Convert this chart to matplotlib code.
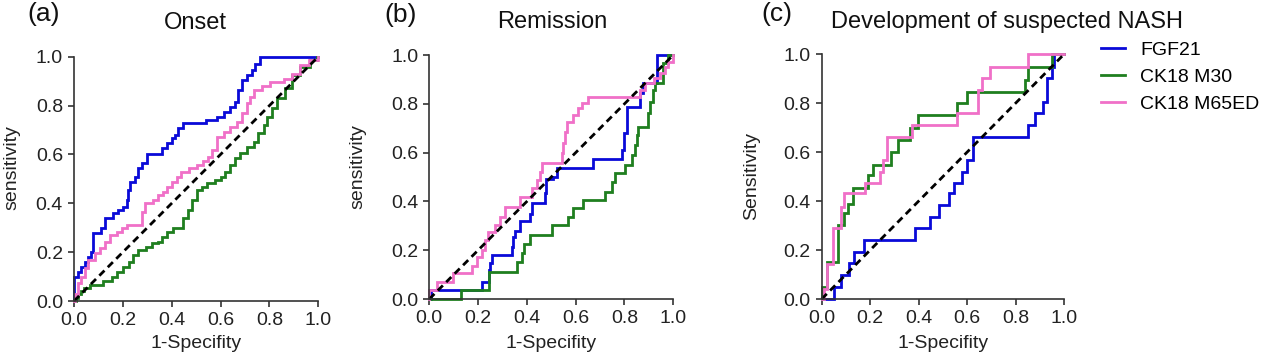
import matplotlib
matplotlib.use("Agg")
import matplotlib.pyplot as plt

plt.rcParams["font.family"] = ["Liberation Sans", "DejaVu Sans"]

# ROC step curves: (1-specificity, sensitivity) at each jump
onset_fgf21 = [(0, 0), (0, 0.10), (0.018, 0.12), (0.03, 0.14), (0.044, 0.16), (0.059, 0.18),
               (0.07, 0.20), (0.077, 0.277), (0.11, 0.297), (0.127, 0.338), (0.16, 0.359),
               (0.18, 0.372), (0.2, 0.386), (0.216, 0.413), (0.222, 0.454), (0.229, 0.488),
               (0.25, 0.509), (0.262, 0.544), (0.277, 0.565), (0.298, 0.602), (0.362, 0.625),
               (0.379, 0.645), (0.40, 0.667), (0.414, 0.68), (0.427, 0.708), (0.447, 0.73),
               (0.54, 0.74), (0.585, 0.754), (0.612, 0.775), (0.639, 0.795), (0.66, 0.816),
               (0.672, 0.864), (0.686, 0.905), (0.707, 0.925), (0.727, 0.945), (0.742, 0.97),
               (0.76, 1.0), (1.0, 1.0)]
onset_m30 = [(0, 0), (0.01, 0.014), (0.018, 0.027), (0.03, 0.04), (0.04, 0.055), (0.066, 0.065),
             (0.12, 0.08), (0.154, 0.10), (0.175, 0.12), (0.202, 0.14), (0.224, 0.16),
             (0.243, 0.188), (0.262, 0.209), (0.293, 0.22), (0.318, 0.236), (0.345, 0.243),
             (0.359, 0.263), (0.38, 0.284), (0.407, 0.298), (0.448, 0.338), (0.468, 0.372),
             (0.482, 0.413), (0.503, 0.454), (0.523, 0.468), (0.544, 0.481), (0.578, 0.495),
             (0.6, 0.509), (0.619, 0.529), (0.639, 0.556), (0.66, 0.584), (0.68, 0.604),
             (0.708, 0.631), (0.735, 0.652), (0.755, 0.686), (0.776, 0.72), (0.79, 0.754),
             (0.81, 0.79), (0.83, 0.83), (0.865, 0.87), (0.893, 0.924), (0.926, 0.959),
             (0.967, 0.986), (0.995, 1.0), (1.0, 1.0)]
onset_m65 = [(0, 0), (0.005, 0.03), (0.018, 0.072), (0.03, 0.10), (0.044, 0.134), (0.059, 0.168),
             (0.086, 0.195), (0.107, 0.216), (0.127, 0.243), (0.148, 0.27), (0.175, 0.284),
             (0.195, 0.297), (0.216, 0.311), (0.277, 0.365), (0.29, 0.40), (0.325, 0.413),
             (0.345, 0.434), (0.366, 0.447), (0.38, 0.468), (0.40, 0.488), (0.421, 0.509),
             (0.44, 0.53), (0.47, 0.544), (0.505, 0.557), (0.53, 0.575), (0.55, 0.59),
             (0.564, 0.618), (0.585, 0.672), (0.612, 0.692), (0.639, 0.713), (0.667, 0.734),
             (0.687, 0.768), (0.708, 0.809), (0.72, 0.836), (0.735, 0.864), (0.77, 0.88),
             (0.803, 0.897), (0.86, 0.91), (0.893, 0.93), (0.926, 0.966), (0.963, 0.986),
             (1.0, 1.0)]

remission_fgf21 = [(0, 0), (0.005, 0.037), (0.215, 0.07), (0.245, 0.12), (0.25, 0.146),
                   (0.255, 0.18), (0.337, 0.215), (0.344, 0.255), (0.35, 0.28), (0.372, 0.32),
                   (0.413, 0.35), (0.42, 0.395), (0.474, 0.433), (0.48, 0.49), (0.508, 0.50),
                   (0.522, 0.536), (0.672, 0.572), (0.79, 0.61), (0.80, 0.68), (0.81, 0.788),
                   (0.864, 0.843), (0.877, 0.884), (0.932, 1.0), (1.0, 1.0)]
remission_m30 = [(0, 0), (0.128, 0.037), (0.244, 0.112), (0.36, 0.15), (0.379, 0.187),
                 (0.387, 0.224), (0.413, 0.262), (0.502, 0.303), (0.57, 0.337), (0.59, 0.372),
                 (0.629, 0.406), (0.72, 0.44), (0.747, 0.48), (0.761, 0.515), (0.802, 0.549),
                 (0.829, 0.59), (0.843, 0.631), (0.85, 0.672), (0.857, 0.706), (0.898, 0.761),
                 (0.905, 0.809), (0.918, 0.857), (0.925, 0.884), (0.959, 0.966), (0.98, 1.0),
                 (1.0, 1.0)]
remission_m65 = [(0, 0), (0.0, 0.037), (0.03, 0.071), (0.098, 0.105), (0.175, 0.135),
                 (0.197, 0.173), (0.218, 0.2), (0.228, 0.242), (0.24, 0.276), (0.269, 0.303),
                 (0.29, 0.337), (0.31, 0.378), (0.372, 0.419), (0.42, 0.454), (0.44, 0.488),
                 (0.454, 0.52), (0.46, 0.556), (0.544, 0.597), (0.55, 0.638), (0.557, 0.686),
                 (0.563, 0.727), (0.59, 0.754), (0.611, 0.781), (0.625, 0.802), (0.652, 0.829),
                 (0.864, 0.857), (0.884, 0.884), (0.92, 0.904), (0.945, 0.925), (0.966, 0.952),
                 (0.98, 0.97), (1.0, 1.0)]

nash_fgf21 = [(0, 0), (0.052, 0.05), (0.08, 0.1), (0.113, 0.146), (0.135, 0.193), (0.176, 0.241),
              (0.385, 0.289), (0.447, 0.335), (0.484, 0.384), (0.525, 0.432), (0.547, 0.473),
              (0.578, 0.52), (0.598, 0.568), (0.626, 0.663), (0.85, 0.711), (0.88, 0.759),
              (0.915, 0.806), (0.928, 0.902), (0.95, 0.95), (0.96, 1.0), (1.0, 1.0)]
nash_m30 = [(0, 0), (0, 0.05), (0.02, 0.152), (0.066, 0.302), (0.093, 0.35), (0.108, 0.39),
            (0.13, 0.452), (0.192, 0.507), (0.213, 0.548), (0.285, 0.6), (0.316, 0.65),
            (0.364, 0.70), (0.399, 0.75), (0.557, 0.8), (0.6, 0.847), (0.839, 0.895),
            (0.85, 0.949), (0.949, 1.0), (1.0, 1.0)]
nash_m65 = [(0, 0), (0.01, 0.04), (0.02, 0.143), (0.048, 0.289), (0.08, 0.377), (0.094, 0.432),
            (0.179, 0.473), (0.24, 0.52), (0.254, 0.568), (0.268, 0.663), (0.371, 0.711),
            (0.557, 0.759), (0.646, 0.854), (0.66, 0.902), (0.695, 0.949), (0.85, 1.0),
            (1.0, 1.0)]

panel_letters = ["(a)", "(b)", "(c)"]
panel_titles = ["Onset", "Remission", "Development of suspected NASH"]
y_labels = ["sensitivity", "sensitivity", "Sensitivity"]
series_names = ["FGF21", "CK18 M30", "CK18 M65ED"]
colors = ["#0a0ad8", "#1f7f1f", "#f070c8"]
ticks = [0.0, 0.2, 0.4, 0.6, 0.8, 1.0]

panels = [
    [onset_fgf21, onset_m30, onset_m65],
    [remission_fgf21, remission_m30, remission_m65],
    [nash_fgf21, nash_m30, nash_m65],
]

W, H = 1267, 359
# axes boxes in pixels: left, top, right, bottom
boxes = [(74, 56.7, 318.3, 301), (429.3, 55, 673.3, 299), (821.7, 54.3, 1064, 299)]
letter_pos = [(44, 14), (401, 15), (777, 14)]
title_pos = [(195, 23), (552, 22), (1007, 22)]
ylabel_pos = [(12, 168), (358, 167), (752, 176)]
xlabel_y = 343

fig = plt.figure(figsize=(W / 100, H / 100), dpi=100)
axc = "#333333"

for i, curves in enumerate(panels):
    l, t, r, b = boxes[i]
    ax = fig.add_axes([l / W, 1 - b / H, (r - l) / W, (b - t) / H])
    for pts, c, name in zip(curves, colors, series_names):
        xs = [p[0] for p in pts]
        ys = [p[1] for p in pts]
        ax.plot(xs, ys, drawstyle="steps-post", color=c, lw=2.0, clip_on=False,
                solid_joinstyle="miter", label=name)
    ax.plot([0, 1], [0, 1], color="black", lw=2.0, ls=(0, (2.6, 1.7)), clip_on=False)
    ax.set_xlim(0, 1)
    ax.set_ylim(0, 1)
    ax.set_xticks(ticks)
    ax.set_yticks(ticks)
    ax.set_xticklabels([f"{v:.1f}" for v in ticks])
    ax.set_yticklabels([f"{v:.1f}" for v in ticks])
    for s in ["top", "right"]:
        ax.spines[s].set_visible(False)
    for s in ["left", "bottom"]:
        ax.spines[s].set_color(axc)
        ax.spines[s].set_linewidth(1.2)
    ax.tick_params(direction="out", length=4, width=1.2, color=axc,
                   labelsize=14, labelcolor="#222222", pad=4)
    ax.patch.set_alpha(0)

    cx = (l + r) / 2
    fig.text(cx / W, 1 - xlabel_y / H, "1-Specifity", fontsize=14,
             ha="center", va="center", color="#222222")
    fig.text(ylabel_pos[i][0] / W, 1 - ylabel_pos[i][1] / H, y_labels[i], fontsize=14,
             rotation=90, ha="center", va="center", color="#222222")
    fig.text(title_pos[i][0] / W, 1 - title_pos[i][1] / H, panel_titles[i], fontsize=17,
             ha="center", va="center", color="#111111")
    fig.text(letter_pos[i][0] / W, 1 - letter_pos[i][1] / H, panel_letters[i], fontsize=19,
             ha="center", va="center", color="#111111")
    if i == 2:
        handles, labels = ax.get_legend_handles_labels()
        fig.legend(handles, labels, loc="upper left",
                   bbox_to_anchor=(1101 / W, 1 - 41 / H), frameon=False,
                   fontsize=14, handlelength=1.25, handletextpad=0.75,
                   labelspacing=0.5, borderpad=0, borderaxespad=0)

fig.savefig("out.png", dpi=100)
